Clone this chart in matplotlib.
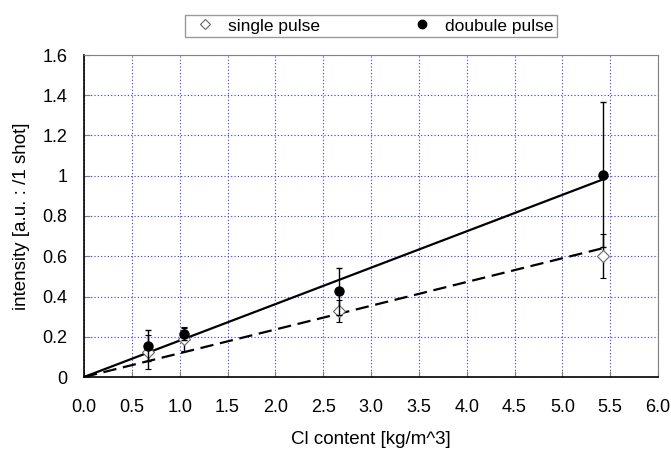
import numpy as np
import matplotlib
matplotlib.use('Agg')
import matplotlib.pyplot as plt
from matplotlib.lines import Line2D

plt.rcParams['font.family'] = ['Liberation Sans', 'DejaVu Sans']

# data
cl_content = [0.67, 1.05, 2.67, 5.42]
single_mean = [0.125, 0.19, 0.33, 0.60]
single_err = [0.085, 0.06, 0.055, 0.11]
double_mean = [0.155, 0.215, 0.425, 1.005]
double_err = [0.077, 0.03, 0.115, 0.36]
single_slope = 0.118
double_slope = 0.181

fig = plt.figure(figsize=(6.71, 4.51), dpi=100)
ax = fig.add_axes([84 / 671, 1 - 377 / 451, 574 / 671, 322 / 451])

x_fit = np.array([0.0, cl_content[-1]])
ax.plot(x_fit, single_slope * x_fit, color='black', lw=1.6, ls=(0, (6, 3)), zorder=2)
ax.plot(x_fit, double_slope * x_fit, color='black', lw=1.6, zorder=2)

ax.errorbar(cl_content, single_mean, yerr=single_err, fmt='D', ms=6,
            mfc='white', mec='#666666', mew=0.8, ecolor='black', elinewidth=1,
            capsize=2, zorder=3)
ax.errorbar(cl_content, double_mean, yerr=double_err, fmt='o', ms=6.5,
            mfc='black', mec='black', ecolor='black', elinewidth=1,
            capsize=2, zorder=4)

ax.set_xlim(0, 6)
ax.set_ylim(0, 1.6)
ax.set_xticks(np.arange(0, 6.01, 0.5))
ax.set_xticklabels([f'{v:.1f}' for v in np.arange(0, 6.01, 0.5)])
ax.set_yticks(np.arange(0, 1.61, 0.2))
ax.set_yticklabels(['0', '0.2', '0.4', '0.6', '0.8', '1', '1.2', '1.4', '1.6'])
ax.tick_params(direction='in', color='#808080', length=4, labelsize=13)
ax.tick_params(axis='x', pad=16)
ax.tick_params(axis='y', pad=12)
ax.grid(True, color='#3333ff', ls=(0, (1, 2)), lw=0.8)
ax.set_axisbelow(True)
for side in ['top', 'right']:
    ax.spines[side].set_color('#808080')
for side in ['left', 'bottom']:
    ax.spines[side].set_color('black')
    ax.spines[side].set_linewidth(1.2)

ax.set_xlabel('Cl content [kg/m^3]', fontsize=13.5, labelpad=11)
ax.set_ylabel('intensity [a.u. : /1 shot]', fontsize=13.5, labelpad=9)

handles = [
    Line2D([], [], ls='none', marker='D', ms=5, mfc='white', mec='#666666', mew=0.8),
    Line2D([], [], ls='none', marker='o', ms=6, mfc='black', mec='black'),
]
leg = fig.legend(handles, ['single pulse', 'doubule pulse'], loc='lower left', ncol=2,
                 mode='expand',
                 bbox_to_anchor=(185 / 671, 1 - 37 / 451, 372 / 671, 25 / 451),
                 fontsize=12.5, frameon=True, fancybox=False, borderaxespad=0,
                 handlelength=1.9, handletextpad=0.37, borderpad=0.2)
leg.get_frame().set_edgecolor('#808080')
leg.get_frame().set_linewidth(1)

fig.savefig('out.png', dpi=100)
